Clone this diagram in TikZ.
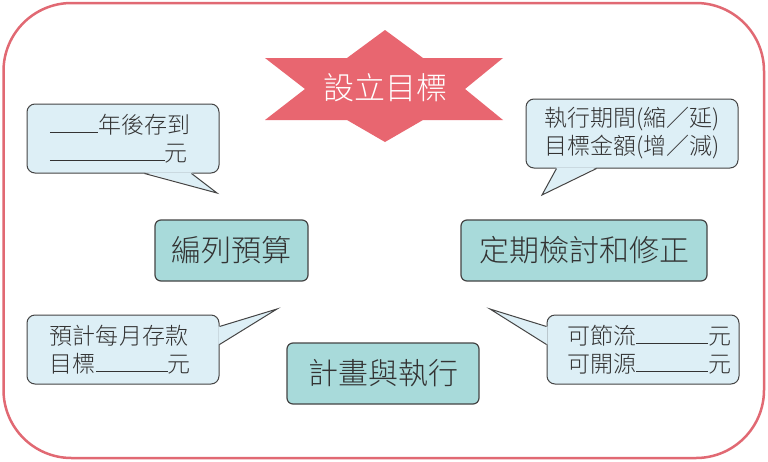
\documentclass[tikz,border=0pt]{standalone}
\usepackage{fontspec}
\newfontfamily\cjk{Noto Sans CJK TC Light}
\definecolor{framecol}{RGB}{225,105,115}
\definecolor{starcol}{RGB}{232,102,112}
\definecolor{boxfill}{RGB}{168,218,218}
\definecolor{calfill}{RGB}{221,239,246}
\definecolor{edgecol}{RGB}{68,68,68}
\definecolor{txtcol}{RGB}{51,51,51}
\begin{document}
\begin{tikzpicture}[x=1pt,y=-1pt,
  procbox/.style={draw=edgecol, line width=1.2pt, fill=boxfill, rounded corners=6pt,
    minimum height=61pt, inner sep=0pt, text=txtcol, font=\cjk\fontsize{30}{30}\selectfont},
  callout/.style={draw=edgecol, line width=1pt, fill=calfill, rounded corners=8pt,
    minimum height=69pt, inner xsep=0pt, inner ysep=0pt, align=left, text=txtcol,
    font=\cjk\fontsize{23}{28}\selectfont},
  tailline/.style={draw=edgecol, line width=1pt, line join=miter}
]
\useasboundingbox (0,0) rectangle (768,461);
% outer frame
\draw[framecol, line width=2.5pt, rounded corners=68pt, fill=white] (3.5,3) rectangle (764,458);

% star banner
\fill[starcol] (385,30) -- (423,58) -- (503,58) -- (465,89) -- (503,120) -- (423,120)
  -- (385,142) -- (347,120) -- (265,120) -- (305,89) -- (265,58) -- (347,58) -- cycle;
\node[text=white, font=\cjk\fontsize{31}{31}\selectfont] (goal) at (385,88) {設立目標};

% process boxes
\node[procbox, minimum width=153pt] (budget) at (231.5,250.5) {編列預算};
\node[procbox, minimum width=246pt] (review) at (584,250.5) {定期檢討和修正};
\node[procbox, minimum width=192pt] (plan) at (383,373.5) {計畫與執行};

% callouts
\node[callout, text width=192pt] (c1) at (123,138.5)
  {\hspace*{23pt}\rule{48pt}{1pt}年後存到\\\hspace*{23pt}\rule{115pt}{1pt}元};
\node[callout, text width=212pt] (c2) at (632,133.5)
  {\hspace*{18pt}執行期間(縮／延)\\\hspace*{18pt}目標金額(增／減)};
\node[callout, text width=192pt] (c3) at (123,349.5)
  {\hspace*{23pt}預計每月存款\\\hspace*{23pt}目標\rule{72pt}{1pt}元};
\node[callout, text width=192pt] (c4) at (643,349.5)
  {\hspace*{20pt}可節流\rule{72pt}{1pt}元\\\hspace*{20pt}可開源\rule{72pt}{1pt}元};

% tails
\coordinate (t1) at (217,193);
\coordinate (t2) at (542,195);
\coordinate (t3) at (277,309);
\coordinate (t4) at (490,309);

\fill[calfill] ([xshift=118pt,yshift=1.2pt]c1.south west) -- (t1) -- ([xshift=165pt,yshift=1.2pt]c1.south west) -- cycle;
\draw[tailline] ([xshift=118pt]c1.south west) -- (t1) -- ([xshift=165pt]c1.south west);

\fill[calfill] ([xshift=31pt,yshift=1.2pt]c2.south west) -- (t2) -- ([xshift=71pt,yshift=1.2pt]c2.south west) -- cycle;
\draw[tailline] ([xshift=31pt]c2.south west) -- (t2) -- ([xshift=71pt]c2.south west);

\fill[calfill] ([xshift=-1.2pt,yshift=-12pt]c3.north east) -- (t3) -- ([xshift=-1.2pt,yshift=-30pt]c3.north east) -- cycle;
\draw[tailline] ([yshift=-12pt]c3.north east) -- (t3) -- ([yshift=-30pt]c3.north east);

\fill[calfill] ([xshift=1.2pt,yshift=-12pt]c4.north west) -- (t4) -- ([xshift=1.2pt,yshift=-30pt]c4.north west) -- cycle;
\draw[tailline] ([yshift=-12pt]c4.north west) -- (t4) -- ([yshift=-30pt]c4.north west);
\end{tikzpicture}
\end{document}
